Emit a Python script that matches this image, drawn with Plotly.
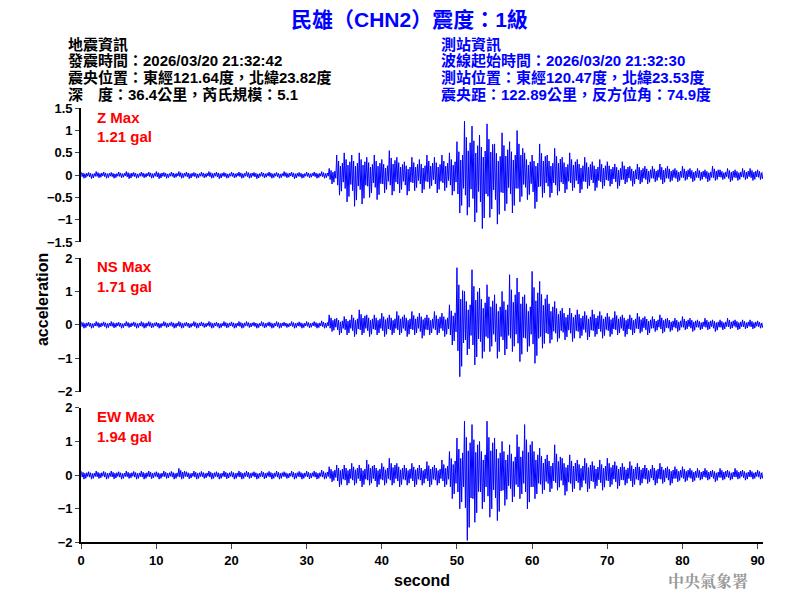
import plotly.graph_objects as go

# per-second peak envelope (gal), t = 0..90 s
seconds = list(range(91))

z_max = [0.07, 0.06, 0.08, 0.07, 0.06, 0.07, 0.08, 0.06, 0.07, 0.07, 0.08, 0.06, 0.07, 0.08, 0.07, 0.06, 0.07, 0.08,
         0.07, 0.06, 0.07, 0.07, 0.08, 0.06, 0.07, 0.07, 0.06, 0.08, 0.07, 0.06, 0.07, 0.07, 0.08, 0.15,
         0.45, 0.5, 0.45, 0.5, 0.4, 0.45, 0.35, 0.55, 0.4, 0.3, 0.4, 0.35, 0.45, 0.4, 0.45, 0.5,
         0.75, 1.21, 1.1, 0.9, 1.15, 0.7, 0.95, 0.75, 1.0, 0.5, 0.45, 0.7, 0.45, 0.6, 0.4, 0.5,
         0.35, 0.4, 0.3, 0.35, 0.3, 0.25, 0.3, 0.2, 0.25, 0.2, 0.2, 0.25, 0.2, 0.15, 0.2, 0.15,
         0.15, 0.12, 0.2, 0.12, 0.15, 0.12, 0.15, 0.15, 0.12]
z_min = [-0.07, -0.08, -0.06, -0.07, -0.07, -0.06, -0.08, -0.07, -0.06, -0.07, -0.08, -0.07, -0.06, -0.07, -0.08, -0.07, -0.06, -0.07,
         -0.08, -0.07, -0.06, -0.07, -0.07, -0.08, -0.06, -0.07, -0.07, -0.06, -0.08, -0.07, -0.06, -0.07, -0.07, -0.2,
         -0.45, -0.6, -0.7, -0.65, -0.5, -0.55, -0.4, -0.45, -0.4, -0.45, -0.35, -0.4, -0.3, -0.4, -0.35, -0.45,
         -0.85, -0.9, -1.05, -1.2, -0.95, -1.1, -0.8, -0.85, -0.6, -0.55, -0.75, -0.5, -0.5, -0.45, -0.4, -0.35,
         -0.4, -0.3, -0.35, -0.3, -0.25, -0.3, -0.2, -0.25, -0.2, -0.2, -0.15, -0.2, -0.15, -0.15, -0.12, -0.15,
         -0.12, -0.15, -0.12, -0.1, -0.15, -0.12, -0.1, -0.12, -0.1]

ns_max = [0.1, 0.08, 0.1, 0.09, 0.1, 0.08, 0.1, 0.09, 0.1, 0.1, 0.08, 0.1, 0.09, 0.1, 0.08, 0.1, 0.09, 0.1,
          0.08, 0.1, 0.09, 0.1, 0.1, 0.08, 0.1, 0.09, 0.1, 0.08, 0.1, 0.09, 0.1, 0.1, 0.12, 0.3,
          0.2, 0.25, 0.3, 0.45, 0.3, 0.3, 0.35, 0.3, 0.4, 0.3, 0.4, 0.35, 0.3, 0.4, 0.35, 0.6,
          1.71, 1.0, 1.65, 1.1, 1.2, 0.9, 1.0, 1.5, 1.4, 0.9, 1.6, 1.3, 0.9, 0.7, 0.5, 0.5,
          0.45, 0.4, 0.45, 0.4, 0.35, 0.4, 0.3, 0.3, 0.35, 0.25, 0.25, 0.3, 0.2, 0.2, 0.25, 0.2,
          0.15, 0.2, 0.15, 0.15, 0.2, 0.15, 0.15, 0.15, 0.12]
ns_min = [-0.1, -0.1, -0.08, -0.1, -0.09, -0.1, -0.08, -0.1, -0.1, -0.09, -0.1, -0.08, -0.1, -0.1, -0.09, -0.1, -0.08, -0.1,
          -0.1, -0.09, -0.1, -0.1, -0.08, -0.1, -0.09, -0.1, -0.1, -0.08, -0.1, -0.1, -0.09, -0.1, -0.1, -0.2,
          -0.3, -0.3, -0.35, -0.3, -0.35, -0.3, -0.35, -0.3, -0.3, -0.35, -0.3, -0.4, -0.3, -0.3, -0.35, -0.6,
          -1.55, -0.9, -1.2, -1.0, -0.8, -1.0, -0.9, -0.8, -1.1, -0.8, -1.15, -0.7, -0.55, -0.5, -0.45, -0.5,
          -0.4, -0.45, -0.35, -0.4, -0.35, -0.3, -0.35, -0.3, -0.25, -0.3, -0.2, -0.25, -0.2, -0.2, -0.15, -0.2,
          -0.15, -0.15, -0.2, -0.15, -0.12, -0.15, -0.12, -0.12, -0.1]

ew_max = [0.12, 0.1, 0.12, 0.11, 0.12, 0.1, 0.12, 0.11, 0.12, 0.12, 0.1, 0.12, 0.11, 0.2, 0.1, 0.12, 0.11, 0.12,
          0.1, 0.12, 0.11, 0.12, 0.12, 0.1, 0.12, 0.11, 0.12, 0.1, 0.12, 0.11, 0.12, 0.12, 0.15, 0.25,
          0.3, 0.3, 0.35, 0.3, 0.45, 0.3, 0.35, 0.5, 0.35, 0.3, 0.35, 0.3, 0.4, 0.3, 0.45, 0.7,
          1.1, 1.6, 1.5, 1.0, 1.6, 1.1, 1.0, 0.9, 1.2, 1.5, 1.0, 0.8, 0.6, 0.9, 0.5, 0.6,
          0.45, 0.5, 0.4, 0.45, 0.5, 0.4, 0.35, 0.4, 0.35, 0.3, 0.3, 0.35, 0.25, 0.25, 0.25, 0.2,
          0.2, 0.2, 0.15, 0.2, 0.15, 0.2, 0.15, 0.15, 0.15]
ew_min = [-0.12, -0.12, -0.1, -0.12, -0.11, -0.12, -0.1, -0.12, -0.12, -0.11, -0.12, -0.1, -0.12, -0.12, -0.11, -0.12, -0.1, -0.12,
          -0.12, -0.11, -0.12, -0.12, -0.1, -0.12, -0.11, -0.12, -0.12, -0.1, -0.12, -0.12, -0.11, -0.12, -0.12, -0.2,
          -0.35, -0.3, -0.3, -0.35, -0.3, -0.35, -0.3, -0.3, -0.35, -0.3, -0.35, -0.3, -0.35, -0.3, -0.35, -0.7,
          -1.0, -1.94, -1.4, -1.0, -1.25, -1.35, -0.9, -0.8, -0.7, -1.0, -0.7, -0.55, -0.5, -0.45, -0.6, -0.5,
          -0.45, -0.5, -0.4, -0.45, -0.35, -0.4, -0.3, -0.35, -0.3, -0.25, -0.3, -0.25, -0.3, -0.2, -0.2, -0.2,
          -0.15, -0.15, -0.2, -0.15, -0.15, -0.12, -0.15, -0.12, -0.12]

peaks = ["1.21", "1.71", "1.94"]
labels = ["Z", "NS", "EW"]
left_info = ["地震資訊", "發震時間：2026/03/20 21:32:42", "震央位置：東經121.64度，北緯23.82度",
             "深　度：36.4公里，芮氏規模：5.1"]
right_info = ["測站資訊", "波線起始時間：2026/03/20 21:32:30", "測站位置：東經120.47度，北緯23.53度",
              "震央距：122.89公里，反方位角：74.9度"]

CJK = "Liberation Sans, Noto Sans CJK TC"
# pattern used to draw each second's swing between its envelope bounds
SWING = [1.0, -0.5, 0.7, -1.0, 0.45, -0.8, 0.6, -0.35]


def wiggle(highs, lows):
    xs, ys = [], []
    for t, hi, lo in zip(seconds, highs, lows):
        for k, s in enumerate(SWING):
            xs.append(t + k / len(SWING))
            ys.append(hi * s if s > 0 else -lo * s)
    return xs, ys


fig = go.Figure()
traces = [(z_max, z_min), (ns_max, ns_min), (ew_max, ew_min)]
domains = [[0.612, 0.8406], [0.356, 0.5846], [0.0983, 0.3287]]
yranges = [[-1.5, 1.5], [-2, 2], [-2, 2]]
dticks = [0.5, 1, 1]
tickfont = dict(size=13, family="Liberation Sans", color="black", weight="bold")

for i, (hi, lo) in enumerate(traces):
    xs, ys = wiggle(hi, lo)
    n = "" if i == 0 else str(i + 1)
    fig.add_trace(go.Scatter(x=xs, y=ys, mode="lines", line=dict(color="blue", width=1),
                             xaxis="x" + n, yaxis="y" + n, showlegend=False))
    fig.layout["yaxis" + n] = dict(domain=domains[i], range=yranges[i], dtick=dticks[i], showgrid=False,
                                   zeroline=False, showline=True, linecolor="black", linewidth=2,
                                   ticks="outside", ticklen=4, tickfont=tickfont, anchor="x" + n)
    fig.layout["xaxis" + n] = dict(domain=[0.0871, 0.9457], range=[0, 90.7], anchor="y" + n,
                                   showgrid=False, zeroline=False, showline=(i == 2), linecolor="black",
                                   linewidth=2, ticks="outside" if i == 2 else "", showticklabels=(i == 2),
                                   dtick=10, tickfont=tickfont, matches="x" if i else None)
    top = domains[i][1]
    fig.add_annotation(x=0.105, y=top - 0.015, xref="paper", yref="paper", xanchor="left",
                       yanchor="middle", showarrow=False, text=f"<b>{labels[i]} Max</b>",
                       font=dict(size=15, color="red", family="Liberation Sans"))
    fig.add_annotation(x=0.105, y=top - 0.049, xref="paper", yref="paper", xanchor="left",
                       yanchor="middle", showarrow=False, text=f"<b>{peaks[i]} gal</b>",
                       font=dict(size=15, color="red", family="Liberation Sans"))

fig.layout.xaxis3.title = dict(text="<b>second</b>", standoff=8,
                               font=dict(size=16, family="Liberation Sans", color="black"))

fig.add_annotation(x=0.026, y=0.513, xref="paper", yref="paper", text="<b>acceleration</b>", textangle=-90,
                   showarrow=False, font=dict(size=16, color="black", family="Liberation Sans"))
fig.add_annotation(x=0.5, y=0.992, xref="paper", yref="paper", yanchor="middle",
                   text="<b>民雄（CHN2）震度：1級</b>", showarrow=False,
                   font=dict(size=21, color="blue", family=CJK))
for j, (lt, rt) in enumerate(zip(left_info, right_info)):
    yy = 0.95 - j * 0.0285
    fig.add_annotation(x=0.068, y=yy, xref="paper", yref="paper", xanchor="left", yanchor="middle",
                       text=f"<b>{lt}</b>", showarrow=False, font=dict(size=15, color="black", family=CJK))
    fig.add_annotation(x=0.538, y=yy, xref="paper", yref="paper", xanchor="left", yanchor="middle",
                       text=f"<b>{rt}</b>", showarrow=False, font=dict(size=15, color="blue", family=CJK))
fig.add_annotation(x=0.93, y=0.033, xref="paper", yref="paper", xanchor="right", yanchor="middle",
                   text="<b>中央氣象署</b>", showarrow=False,
                   font=dict(size=16, color="#999999", family="Noto Serif CJK TC, Noto Sans CJK TC"))

fig.update_layout(width=800, height=600, margin=dict(l=0, r=0, t=0, b=0),
                  plot_bgcolor="white", paper_bgcolor="white")
fig.write_html("out.html")
